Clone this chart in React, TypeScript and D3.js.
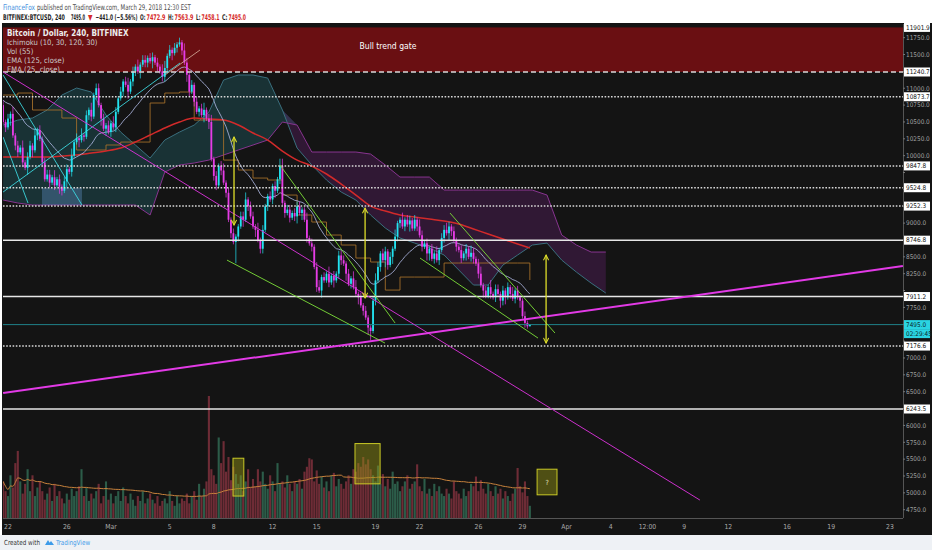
import * as d3 from "d3";
import { useLayoutEffect, useRef, useState } from "react";

const W = 932;
const H = 550;
const P = { left: 3, right: 903, top: 24, bottom: 518 };

// 4h bars, first bar Feb 21 16:00 UTC
const T0 = Date.UTC(2018, 1, 21, 16);
const H4 = 4 * 3600 * 1000;

const open0 = 10750;
const closes = [
  10500, 10420, 10550, 10620, 10300, 10150, 10050, 10120, 9900, 9820,
  9980, 10150, 10080, 10300, 10380, 10250, 9900, 9650, 9720, 9600,
  9680, 9560, 9650, 9540, 9480, 9620, 9800, 9760, 10000, 10200,
  10260, 10230, 10300, 10280, 10600, 10680, 10580, 10900, 11000, 10750,
  10550, 10400, 10450, 10350, 10480, 10420, 10650, 10850, 10950, 11100,
  11050, 10950, 11100, 11250, 11320, 11250, 11350, 11420, 11380, 11450,
  11400, 11460, 11380, 11320, 11250, 11170, 11300, 11480, 11570, 11520,
  11600, 11650, 11680, 11560, 11380, 11200, 10950, 11050, 10800, 10650,
  10700, 10600, 10680, 10550, 10500, 9950, 9700, 9560, 9850, 9780,
  9600, 9450, 9050, 8850, 8720, 8800, 8950, 9100, 9050, 9350,
  9250, 9100, 8950, 8900, 8750, 8620, 8900, 9250, 9400, 9350,
  9550, 9480, 9650, 9850, 9300, 9150, 9200, 9080, 9150, 9100,
  9250, 9150, 9200, 9050, 8780, 8700, 8650, 8350, 8050, 8000,
  8200, 8150, 8250, 8120, 8220, 8150, 8250, 8520, 8450, 8400,
  8250, 8100, 8180, 8050, 7950, 7900, 7780, 7700, 7600, 7450,
  7400, 7850, 8150, 8350, 8550, 8450, 8580, 8380, 8500, 8620,
  8800, 9000, 9050, 8950, 9050, 8980, 9040, 8920, 9050, 8950,
  8820, 8650, 8700, 8550, 8620, 8470, 8550, 8450, 8600, 8780,
  8900, 8850, 8950, 8880, 8750, 8650, 8600, 8480, 8550, 8620,
  8500, 8560, 8470, 8400, 8250, 8080, 8000, 7920, 8050, 7950,
  7900, 8020, 7950, 7850, 8000, 7900, 8050, 7950, 7880, 8000,
  7900, 7850, 7620, 7520, 7470, 7495,
];

// wick lengths, one digit per bar (x35 USD)
const wickUp =
  "212131 213122 131212 221312 122131 213121 312212 121321 212312 131221 221213 312121 " +
  "213212 121231 231212 312121 122312 213121 121213 312212 221131 212312 131212 221213 " +
  "312121 123212 212131 131221 213212 121312 232121 121213 212312 131221 212131 211210";
const wickDn =
  "121312 212131 312121 121213 213121 131212 212131 312121 121312 213122 131212 221312 " +
  "121321 212131 312212 121219 213121 131221 212312 121212 313121 212131 121312 213121 " +
  "131213 412121 321312 212131 121213 312121 213212 121312 212131 121213 231212 131210";

const volumes = [
  30, 22, 18, 35, 25, 45, 55, 30, 20, 28, 40, 22,
  35, 18, 25, 30, 22, 15, 20, 25, 14, 28, 18, 22,
  16, 12, 20, 15, 24, 18, 22, 26, 40, 18, 25, 14,
  20, 16, 22, 28, 12, 18, 30, 15, 20, 12, 18, 22,
  14, 25, 18, 12, 20, 15, 10, 18, 14, 22, 12, 16,
  20, 15, 12, 18, 10, 14, 16, 12, 22, 14, 10, 18,
  12, 16, 14, 20, 12, 18, 22, 15, 28, 18, 24, 30,
  100, 40, 35, 28, 66, 45, 63, 38, 50, 31, 42, 36,
  28, 35, 22, 30, 40, 25, 32, 26, 40, 30, 38, 28,
  24, 35, 30, 22, 45, 28, 30, 25, 35, 28, 22, 30,
  28, 32, 24, 38, 42, 49, 48, 30, 39, 28, 34, 25,
  30, 22, 35, 37, 26, 32, 28, 24, 30, 35, 28, 40,
  38, 45, 42, 50, 44, 48, 40, 35, 30, 43, 28, 36,
  26, 32, 24, 38, 28, 30, 22, 26, 30, 35, 24, 28,
  30, 44, 26, 22, 32, 20, 24, 18, 28, 22, 26, 20,
  18, 24, 20, 16, 30, 22, 20, 16, 24, 18, 22, 28,
  26, 34, 22, 31, 24, 20, 28, 22, 18, 26, 20, 24,
  16, 22, 18, 14, 20, 24, 41, 26, 21, 30, 18, 10,
];

const ema25Seed = 10850;

// read once per day (every 6 bars), last value on the final bar
const ema125 = [
  9980, 9980, 9980, 9980, 9995, 10010, 10039, 10069, 10113, 10202, 10306, 10410,
  10499, 10558, 10543, 10528, 10454, 10336, 10232, 10069, 9935, 9846, 9728, 9579,
  9416, 9253, 9179, 9120, 9090, 9060, 9031, 8986, 8912, 8838, 8764, 8690, 8630,
];
const kijun = [
  10899, 10929, 10677, 10677, 10558, 10084, 10084, 10158, 10202, 10202, 10781, 10929,
  10944, 10528, 10528, 9935, 9787, 9668, 9639, 9416, 9120, 9016, 8823, 8675,
  8482, 8423, 8007, 8200, 8200, 8200, 8408, 8408, 8408, 8408, 8408, 8408, 8156,
];

// cloud, every 6 bars, already shifted 30 bars ahead
const spanA = [
  10454, 10528, 10558, 10677, 10899, 11003, 10944, 10603, 10350, 10158, 9965, 10232,
  10350, 10454, 10647, 11122, 11196, 11196, 11151, 10677, 10113, 9861, 9639, 9461,
  9342, 9120, 8927, 8779, 8704, 8630, 8527, 8304, 8082, 8082, 8378, 8527, 8675, 8704,
  8452, 8274, 8111, 7963,
];
const spanB = [
  9342, 9298, 9268, 9268, 9268, 9268, 9268, 9268, 9268, 9268, 9120, 9757,
  9861, 9891, 9935, 10010, 10084, 10158, 10232, 10499, 10454, 10054, 10054, 10054,
  10054, 10024, 9861, 9683, 9683, 9683, 9490, 9490, 9490, 9490, 9490, 9490, 9490, 9416,
  8823, 8675, 8571, 8571,
];

const priceTicks = d3.range(4750, 11751, 250);
const levelPrices = [11240.7, 10873.7, 9847.8, 9524.8, 9252.3, 8746.8, 7911.2, 7176.6, 6243.5];
const levelKinds = ["dash", "dot", "dot", "dot", "dot", "solid", "solid", "dot", "solid"];
const gateTop = 11901.9;
const lastPrice = 7495.0;

const timeTicks: [string, string][] = [
  ["2018-02-22T00:00Z", "22"], ["2018-02-26T00:00Z", "26"], ["2018-03-01T00:00Z", "Mar"],
  ["2018-03-05T00:00Z", "5"], ["2018-03-08T00:00Z", "8"], ["2018-03-12T00:00Z", "12"],
  ["2018-03-15T00:00Z", "15"], ["2018-03-19T00:00Z", "19"], ["2018-03-22T00:00Z", "22"],
  ["2018-03-26T00:00Z", "26"], ["2018-03-29T00:00Z", "29"], ["2018-04-01T00:00Z", "Apr"],
  ["2018-04-04T00:00Z", "4"], ["2018-04-06T12:00Z", "12:00"], ["2018-04-09T00:00Z", "9"],
  ["2018-04-12T00:00Z", "12"], ["2018-04-16T00:00Z", "16"], ["2018-04-19T00:00Z", "19"],
  ["2018-04-23T00:00Z", "23"],
];

// header pieces: [text, colour key, left, right, baseline, bold]
const headerParts: [string, string, number, number, number, boolean][] = [
  ["FinanceFox", "blue", 3, 35, 9.5, false],
  ["published on TradingView.com, March 29, 2018 12:30 EST", "grey", 37, 191, 9.5, false],
  ["BITFINEX:BTCUSD, 240", "dark", 3, 65, 19.5, true],
  ["7495.0", "dark", 71, 85, 19.5, true],
  ["▼", "red", 88, 92.5, 19.5, true],
  ["−441.0 (−5.56%)", "dark", 95.5, 137.5, 19.5, true],
  ["O:", "dark", 140, 145.5, 19.5, true],
  ["7472.9", "red", 146.5, 165.5, 19.5, true],
  ["H:", "dark", 168, 173.5, 19.5, true],
  ["7563.9", "red", 174.5, 193.5, 19.5, true],
  ["L:", "dark", 196, 200.5, 19.5, true],
  ["7458.1", "red", 201.5, 219.5, 19.5, true],
  ["C:", "dark", 222, 227.5, 19.5, true],
  ["7495.0", "red", 228.5, 246, 19.5, true],
];
const headerColors: Record<string, string> = {
  blue: "#3d8fe0",
  grey: "#4a4a4a",
  dark: "#1e1e1e",
  red: "#d62a2a",
};

// drawn trendlines: [t1, p1, t2, p2, kind]
const trendlines: [string, number, string, number, string][] = [
  ["2018-02-21T16:00Z", 11196, "2018-02-27T00:45Z", 9268, "cyan"],
  ["2018-02-21T16:00Z", 10276, "2018-02-23T08:40Z", 9298, "cyan"],
  ["2018-02-21T16:00Z", 9461, "2018-03-05T16:48Z", 11374, "cyan"],
  ["2018-03-04T16:20Z", 11196, "2018-03-07T01:30Z", 11567, "tan"],
  ["2018-02-21T16:00Z", 11240, "2018-04-10T01:40Z", 4893, "magenta"],
  ["2018-02-21T16:00Z", 6480, "2018-04-23T21:00Z", 8363, "magentaThick"],
  ["2018-03-12T12:00Z", 9861, "2018-03-20T08:00Z", 7518, "green"],
  ["2018-03-08T21:30Z", 8452, "2018-03-19T15:30Z", 7221, "green"],
  ["2018-03-24T01:40Z", 9149, "2018-03-31T05:00Z", 7370, "green"],
  ["2018-03-22T00:40Z", 8482, "2018-03-30T01:20Z", 7295, "green"],
];

const arrowTimes = ["2018-03-09T09:00Z", "2018-03-18T07:00Z", "2018-03-30T14:30Z"];
const arrowTop = [10276, 9223, 8526];
const arrowBottom = [8971, 7889, 7221];

const volBoxStart = ["2018-03-09T07:20Z", "2018-03-17T14:30Z", "2018-03-29T23:50Z"];
const volBoxEnd = ["2018-03-10T01:00Z", "2018-03-19T07:30Z", "2018-03-31T08:20Z"];
const volBoxTop = [49, 61, 40];
const volBoxBottom = [18, 28, 19];
const volBoxText = ["", "", "?"];

const blueBox: [string, number, string, number] = ["2018-02-24T07:30Z", 9520, "2018-02-27T00:45Z", 9268];

const legendLines = ["Ichimoku (10, 30, 120, 30)", "Vol (55)", "EMA (125, close)", "EMA (25, close)"];

const styles: Record<string, { stroke: string; width: number; opacity: number }> = {
  cyan: { stroke: "#3fe0e8", width: 1, opacity: 0.85 },
  tan: { stroke: "#d9b3a0", width: 1, opacity: 0.8 },
  magenta: { stroke: "#d633d6", width: 1, opacity: 0.95 },
  magentaThick: { stroke: "#e23ae6", width: 2, opacity: 1 },
  green: { stroke: "#7ee03a", width: 1, opacity: 0.9 },
};

const font = "'Liberation Sans Narrow', 'DejaVu Sans Condensed', 'Liberation Sans', sans-serif";

const App = () => {
  // header pieces are squeezed horizontally to the widths seen on the chart
  const headRefs = useRef<(SVGTextElement | null)[]>([]);
  const [headScale, setHeadScale] = useState<number[]>(headerParts.map(() => 1));
  useLayoutEffect(() => {
    setHeadScale(
      headerParts.map(([, , x0, x1], i) => {
        const el = headRefs.current[i];
        const w = el ? el.getComputedTextLength() : 0;
        return w > 0 ? (x1 - x0) / w : 1;
      })
    );
  }, []);

  const x = d3
    .scaleUtc()
    .domain([new Date("2018-02-22T00:00Z"), new Date("2018-04-23T00:00Z")])
    .range([8, 890]);
  const y = d3.scaleLinear().domain([6243.5, 11240.7]).range([409, 72]);
  const yv = d3.scaleLinear().domain([0, 100]).range([P.bottom, 396]);

  const wu = wickUp.replace(/\s/g, "").split("").map(Number);
  const wd = wickDn.replace(/\s/g, "").split("").map(Number);

  const candles = closes.map((c, i) => {
    const o = i === 0 ? open0 : closes[i - 1];
    return {
      t: new Date(T0 + i * H4),
      o,
      c,
      hi: Math.max(o, c) + (wu[i] ?? 1) * 35,
      lo: Math.min(o, c) - (wd[i] ?? 1) * 35,
      v: volumes[i] ?? 0,
    };
  });

  let e = ema25Seed;
  const ema25 = closes.map((c, i) => {
    e = e + ((c - e) * 2) / 26;
    return { t: candles[i].t, v: e };
  });

  const volMA = volumes.map((_, i) => ({
    t: candles[i].t,
    v: d3.mean(volumes.slice(Math.max(0, i - 54), i + 1)) ?? 0,
  }));

  const dayIdx = (k: number, n: number) => (k === n - 1 ? closes.length - 1 : k * 6);
  const ema125Pts = ema125.map((v, k) => ({ t: new Date(T0 + dayIdx(k, ema125.length) * H4), v }));
  const kijunPts = kijun.map((v, k) => ({ t: new Date(T0 + dayIdx(k, kijun.length) * H4), v }));
  const cloud = spanA.map((a, k) => ({ t: new Date(T0 + k * 6 * H4), a, b: spanB[k] }));

  const line = d3
    .line<{ t: Date; v: number }>()
    .x((d) => x(d.t))
    .y((d) => y(d.v));
  const smooth = d3
    .line<{ t: Date; v: number }>()
    .x((d) => x(d.t))
    .y((d) => y(d.v))
    .curve(d3.curveMonotoneX);
  const kijunLine = d3
    .line<{ t: Date; v: number }>()
    .x((d) => x(d.t))
    .y((d) => y(d.v))
    .curve(d3.curveStepAfter);
  const volLine = d3
    .line<{ t: Date; v: number }>()
    .x((d) => x(d.t))
    .y((d) => yv(d.v))
    .curve(d3.curveMonotoneX);

  type C = { t: Date; a: number; b: number };
  const tealArea = d3
    .area<C>()
    .x((d) => x(d.t))
    .y0((d) => y(d.b))
    .y1((d) => Math.min(y(d.a), y(d.b)));
  const purpleArea = d3
    .area<C>()
    .x((d) => x(d.t))
    .y0((d) => y(d.a))
    .y1((d) => Math.min(y(d.a), y(d.b)));
  const spanALine = d3.line<C>().x((d) => x(d.t)).y((d) => y(d.a));
  const spanBLine = d3.line<C>().x((d) => x(d.t)).y((d) => y(d.b));

  const bw = 1.8;
  const up = "#22e3f0";
  const down = "#e63ce6";

  const levelLabels = [gateTop, ...levelPrices];
  // axis labels that sit under a level box are hidden, as on the chart
  const freeTicks = priceTicks.filter((p) => levelLabels.every((l) => Math.abs(y(p) - y(l)) > 7.5));

  return (
    <svg
      width={W}
      height={H}
      viewBox={`0 0 ${W} ${H}`}
      style={{ position: "absolute", left: 0, top: 0, display: "block" }}
      fontFamily={font}
    >
      <defs>
        <clipPath id="plot">
          <rect x={P.left} y={P.top} width={P.right - P.left} height={P.bottom - P.top} />
        </clipPath>
        <marker id="ah" viewBox="0 0 10 10" refX="9" refY="5" markerWidth="5" markerHeight="5" orient="auto-start-reverse">
          <path d="M1,1 L9,5 L1,9" fill="none" stroke="#dede2a" strokeWidth={1.6} />
        </marker>
      </defs>

      <rect x={0} y={0} width={W} height={H} fill="#ffffff" />
      <rect x={0} y={535} width={W} height={15} fill="#eef1f5" />
      <rect x={2} y={23} width={W - 2} height={512} fill="#141414" />

      {/* header */}
      {headerParts.map(([s, c, x0, , by, bold], i) => (
        <text
          key={`h${i}`}
          ref={(el) => {
            headRefs.current[i] = el;
          }}
          transform={`translate(${x0},${by}) scale(${headScale[i]},1)`}
          fontSize={7.8}
          fontWeight={bold ? "bold" : "normal"}
          fill={headerColors[c]}
        >
          {s}
        </text>
      ))}

      <g clipPath="url(#plot)">
        {/* bull trend gate */}
        <rect
          x={P.left}
          y={y(gateTop)}
          width={P.right - P.left}
          height={y(levelPrices[0]) - y(gateTop)}
          fill="#6a0f12"
        />

        {/* ichimoku cloud */}
        <path d={tealArea(cloud) ?? ""} fill="rgba(45,165,180,0.21)" />
        <path d={purpleArea(cloud) ?? ""} fill="rgba(150,40,170,0.22)" />
        <path d={spanALine(cloud) ?? ""} fill="none" stroke="#3a6f7e" strokeWidth={1} />
        <path d={spanBLine(cloud) ?? ""} fill="none" stroke="#87348f" strokeWidth={1} />

        <rect
          x={x(new Date(blueBox[0]))}
          y={y(blueBox[1])}
          width={x(new Date(blueBox[2])) - x(new Date(blueBox[0]))}
          height={y(blueBox[3]) - y(blueBox[1])}
          fill="rgba(110,160,220,0.32)"
        />

        {/* volume */}
        {candles.map((d, i) => (
          <rect
            key={`v${i}`}
            x={x(d.t) - 1.05}
            y={yv(d.v)}
            width={2.1}
            height={P.bottom - yv(d.v)}
            fill={d.c >= d.o ? "#2c5c49" : "#6e2c36"}
          />
        ))}
        <path d={volLine(volMA) ?? ""} fill="none" stroke="#c8823c" strokeWidth={1} />
        {volBoxStart.map((s, i) => {
          const x1 = x(new Date(s));
          const x2 = x(new Date(volBoxEnd[i]));
          return (
            <g key={`vb${i}`}>
              <rect
                x={x1}
                y={yv(volBoxTop[i])}
                width={x2 - x1}
                height={yv(volBoxBottom[i]) - yv(volBoxTop[i])}
                fill="rgba(150,150,20,0.45)"
                stroke="#c9c926"
                strokeWidth={1}
              />
              {volBoxText[i] && (
                <text
                  x={(x1 + x2) / 2}
                  y={(yv(volBoxTop[i]) + yv(volBoxBottom[i])) / 2 + 2.5}
                  fontSize={7}
                  fill="#e8e8c0"
                  textAnchor="middle"
                >
                  {volBoxText[i]}
                </text>
              )}
            </g>
          );
        })}

        {/* indicators */}
        <path d={kijunLine(kijunPts) ?? ""} fill="none" stroke="#a8722a" strokeWidth={1} opacity={0.85} />
        <path d={smooth(ema125Pts) ?? ""} fill="none" stroke="#d22a2a" strokeWidth={1.5} />
        <path d={line(ema25) ?? ""} fill="none" stroke="#a9b3dc" strokeWidth={1} opacity={0.85} />

        {/* candles */}
        {candles.map((d, i) => {
          const cx = x(d.t);
          const col = d.c >= d.o ? up : down;
          const top = y(Math.max(d.o, d.c));
          const h = Math.max(1, y(Math.min(d.o, d.c)) - top);
          return (
            <g key={`c${i}`}>
              <line x1={cx} x2={cx} y1={y(d.hi)} y2={y(d.lo)} stroke={col} strokeWidth={0.7} />
              <rect x={cx - bw / 2} y={top} width={bw} height={h} fill={col} />
            </g>
          );
        })}

        {/* horizontal levels */}
        {levelPrices.map((p, i) => (
          <line
            key={`l${i}`}
            x1={P.left}
            x2={P.right}
            y1={y(p)}
            y2={y(p)}
            stroke={levelKinds[i] === "solid" ? "#e6e6e6" : "#d8d8d8"}
            strokeWidth={levelKinds[i] === "solid" ? 1.4 : 1.5}
            strokeDasharray={levelKinds[i] === "dot" ? "1.6,1.6" : levelKinds[i] === "dash" ? "5,3" : undefined}
          />
        ))}
        <line x1={P.left} x2={P.right} y1={y(lastPrice)} y2={y(lastPrice)} stroke="#1f8088" strokeWidth={1} />

        {/* trendlines */}
        {trendlines.map(([t1, p1, t2, p2, kind], i) => {
          const s = styles[kind];
          return (
            <line
              key={`t${i}`}
              x1={x(new Date(t1))}
              y1={y(p1)}
              x2={x(new Date(t2))}
              y2={y(p2)}
              stroke={s.stroke}
              strokeWidth={s.width}
              opacity={s.opacity}
            />
          );
        })}

        {/* arrows */}
        {arrowTimes.map((t, i) => (
          <line
            key={`a${i}`}
            x1={x(new Date(t))}
            x2={x(new Date(t))}
            y1={y(arrowTop[i])}
            y2={y(arrowBottom[i])}
            stroke="#dede2a"
            strokeWidth={1.3}
            markerStart="url(#ah)"
            markerEnd="url(#ah)"
          />
        ))}

        <text x={388} y={49} fontSize={8.5} fill="#ffffff" textAnchor="middle">
          Bull trend gate
        </text>
      </g>

      {/* legend */}
      <text x={7} y={35.5} fontSize={8} fontWeight="bold" fill="#ececec">
        Bitcoin / Dollar, 240, BITFINEX
      </text>
      {legendLines.map((s, i) => (
        <text key={s} x={7} y={44.6 + i * 9} fontSize={7.6} fill="#c9c9c9">
          {s}
        </text>
      ))}

      {/* axes frame */}
      <line x1={P.right + 0.5} x2={P.right + 0.5} y1={P.top} y2={P.bottom} stroke="#555" />
      <line x1={P.left} x2={P.right} y1={P.bottom + 0.5} y2={P.bottom + 0.5} stroke="#555" />

      {/* price axis */}
      {priceTicks.map((p) => (
        <line key={`pl${p}`} x1={P.right} x2={P.right + 2} y1={y(p)} y2={y(p)} stroke="#777" />
      ))}
      {freeTicks.map((p) => (
        <text key={`pt${p}`} x={906} y={y(p) + 2.3} fontSize={6.4} fill="#a0a0a0">
          {p.toFixed(1)}
        </text>
      ))}
      {levelLabels.map((p) => (
        <g key={`lb${p}`}>
          <rect x={904} y={y(p) - 4.5} width={26} height={9} fill="#ffffff" />
          <text x={906} y={y(p) + 2.3} fontSize={6.4} fill="#111">
            {p.toFixed(1)}
          </text>
        </g>
      ))}
      <rect x={904} y={y(lastPrice) - 4.5} width={26} height={9} fill="#2ad4e2" />
      <text x={906} y={y(lastPrice) + 2.3} fontSize={6.4} fill="#0b2a2e">
        {lastPrice.toFixed(1)}
      </text>
      <rect x={904} y={y(lastPrice) + 4.5} width={26} height={9} fill="#2ad4e2" />
      <text x={906} y={y(lastPrice) + 11.3} fontSize={6.4} fill="#0b2a2e">
        02:29:45
      </text>

      {/* time axis */}
      {timeTicks.map(([t, label]) => (
        <text key={t + label} x={x(new Date(t))} y={529} fontSize={6.8} fill="#a8a8a8" textAnchor="middle">
          {label}
        </text>
      ))}

      {/* footer */}
      <text x={4} y={545} fontSize={7} fill="#333" textLength={36} lengthAdjust="spacingAndGlyphs">
        Created with
      </text>
      <path d="M45,545 l3,-5 l3,5 z M48,545 l3,-4 l3,4 z" fill="#3d9be9" />
      <text x={56} y={545} fontSize={7} fill="#3d9be9" textLength={34} lengthAdjust="spacingAndGlyphs">
        TradingView
      </text>
    </svg>
  );
};

export default App;
